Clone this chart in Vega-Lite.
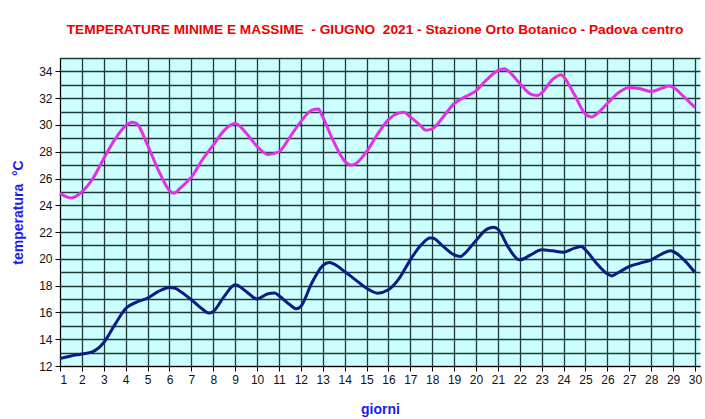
{
  "$schema": "https://vega.github.io/schema/vega-lite/v6.json",
  "width": 640,
  "height": 308,
  "autosize": {"type": "none"},
  "padding": {"left": 60, "top": 58, "right": 5, "bottom": 53},
  "background": "white",
  "config": {
    "view": {"fill": "#CCFFFF", "stroke": null},
    "font": "Liberation Sans"
  },
  "title": {
    "text": "TEMPERATURE MINIME E MASSIME \u00a0- GIUGNO \u00a02021 - Stazione Orto Botanico - Padova centro",
    "color": "#ee0000",
    "fontSize": 13.7,
    "fontWeight": "bold",
    "font": "Liberation Sans",
    "anchor": "middle",
    "offset": 21,
    "dx": -5
  },
  "datasets": {
    "massime": [
      {"giorno": 1, "temp": 24.9}, {"giorno": 1.5, "temp": 24.55}, {"giorno": 2, "temp": 25.0},
      {"giorno": 2.5, "temp": 26.0}, {"giorno": 3, "temp": 27.5}, {"giorno": 3.5, "temp": 28.9},
      {"giorno": 4, "temp": 29.95}, {"giorno": 4.3, "temp": 30.2}, {"giorno": 4.5, "temp": 30.1},
      {"giorno": 5, "temp": 28.5}, {"giorno": 5.5, "temp": 26.6}, {"giorno": 6, "temp": 25.1},
      {"giorno": 6.2, "temp": 24.9}, {"giorno": 6.5, "temp": 25.3}, {"giorno": 7, "temp": 26.1},
      {"giorno": 7.5, "temp": 27.4}, {"giorno": 8, "temp": 28.5}, {"giorno": 8.5, "temp": 29.6},
      {"giorno": 9, "temp": 30.1}, {"giorno": 9.5, "temp": 29.4}, {"giorno": 10, "temp": 28.4},
      {"giorno": 10.5, "temp": 27.8}, {"giorno": 11, "temp": 28.0}, {"giorno": 11.5, "temp": 29.1},
      {"giorno": 12, "temp": 30.25}, {"giorno": 12.5, "temp": 31.1}, {"giorno": 12.8, "temp": 31.2},
      {"giorno": 13, "temp": 30.6}, {"giorno": 13.5, "temp": 28.75}, {"giorno": 14, "temp": 27.3},
      {"giorno": 14.3, "temp": 27.0}, {"giorno": 14.5, "temp": 27.1}, {"giorno": 15, "temp": 28.0},
      {"giorno": 15.5, "temp": 29.3}, {"giorno": 16, "temp": 30.4}, {"giorno": 16.5, "temp": 30.9},
      {"giorno": 16.7, "temp": 30.95}, {"giorno": 17, "temp": 30.6}, {"giorno": 17.5, "temp": 29.9},
      {"giorno": 17.7, "temp": 29.6}, {"giorno": 18, "temp": 29.7}, {"giorno": 18.5, "temp": 30.6},
      {"giorno": 19, "temp": 31.6}, {"giorno": 19.5, "temp": 32.1}, {"giorno": 20, "temp": 32.55},
      {"giorno": 20.5, "temp": 33.4}, {"giorno": 21, "temp": 34.05}, {"giorno": 21.3, "temp": 34.2},
      {"giorno": 21.5, "temp": 34.0}, {"giorno": 22, "temp": 33.1}, {"giorno": 22.5, "temp": 32.3},
      {"giorno": 22.8, "temp": 32.2}, {"giorno": 23, "temp": 32.4}, {"giorno": 23.5, "temp": 33.4},
      {"giorno": 23.9, "temp": 33.75}, {"giorno": 24, "temp": 33.6}, {"giorno": 24.5, "temp": 32.25},
      {"giorno": 25, "temp": 30.8}, {"giorno": 25.3, "temp": 30.6}, {"giorno": 25.5, "temp": 30.8},
      {"giorno": 26, "temp": 31.6}, {"giorno": 26.5, "temp": 32.4}, {"giorno": 27, "temp": 32.8},
      {"giorno": 27.5, "temp": 32.7}, {"giorno": 28, "temp": 32.5}, {"giorno": 28.5, "temp": 32.75},
      {"giorno": 28.8, "temp": 32.9}, {"giorno": 29, "temp": 32.8}, {"giorno": 29.5, "temp": 32.1},
      {"giorno": 30, "temp": 31.3}
    ],
    "minime": [
      {"giorno": 1, "temp": 12.57}, {"giorno": 1.5, "temp": 12.75}, {"giorno": 2, "temp": 12.9},
      {"giorno": 2.5, "temp": 13.07}, {"giorno": 3, "temp": 13.75}, {"giorno": 3.5, "temp": 15.07},
      {"giorno": 4, "temp": 16.3}, {"giorno": 4.5, "temp": 16.77}, {"giorno": 5, "temp": 17.07},
      {"giorno": 5.5, "temp": 17.57}, {"giorno": 6, "temp": 17.87}, {"giorno": 6.3, "temp": 17.77},
      {"giorno": 6.5, "temp": 17.57}, {"giorno": 7, "temp": 16.95}, {"giorno": 7.5, "temp": 16.25},
      {"giorno": 7.8, "temp": 15.95}, {"giorno": 8, "temp": 16.07}, {"giorno": 8.5, "temp": 17.2},
      {"giorno": 9, "temp": 18.06}, {"giorno": 9.5, "temp": 17.57}, {"giorno": 10, "temp": 17.0},
      {"giorno": 10.5, "temp": 17.4}, {"giorno": 10.8, "temp": 17.45}, {"giorno": 11, "temp": 17.25},
      {"giorno": 11.5, "temp": 16.57}, {"giorno": 11.8, "temp": 16.27}, {"giorno": 12, "temp": 16.45},
      {"giorno": 12.5, "temp": 18.2}, {"giorno": 13, "temp": 19.5}, {"giorno": 13.3, "temp": 19.73},
      {"giorno": 13.5, "temp": 19.63}, {"giorno": 14, "temp": 19.06}, {"giorno": 14.5, "temp": 18.43},
      {"giorno": 15, "temp": 17.81}, {"giorno": 15.5, "temp": 17.44}, {"giorno": 16, "temp": 17.69},
      {"giorno": 16.5, "temp": 18.56}, {"giorno": 17, "temp": 19.93}, {"giorno": 17.5, "temp": 21.05},
      {"giorno": 17.9, "temp": 21.55}, {"giorno": 18, "temp": 21.55}, {"giorno": 18.5, "temp": 20.93},
      {"giorno": 19, "temp": 20.3}, {"giorno": 19.3, "temp": 20.18}, {"giorno": 19.5, "temp": 20.43},
      {"giorno": 20, "temp": 21.38}, {"giorno": 20.5, "temp": 22.22}, {"giorno": 20.8, "temp": 22.37},
      {"giorno": 21, "temp": 22.22}, {"giorno": 21.5, "temp": 20.8}, {"giorno": 21.9, "temp": 19.98},
      {"giorno": 22, "temp": 19.93}, {"giorno": 22.5, "temp": 20.3}, {"giorno": 23, "temp": 20.68},
      {"giorno": 23.5, "temp": 20.6}, {"giorno": 24, "temp": 20.5}, {"giorno": 24.5, "temp": 20.8},
      {"giorno": 24.8, "temp": 20.93}, {"giorno": 25, "temp": 20.68}, {"giorno": 25.5, "temp": 19.68},
      {"giorno": 26, "temp": 18.88}, {"giorno": 26.2, "temp": 18.73}, {"giorno": 26.5, "temp": 18.98},
      {"giorno": 27, "temp": 19.43}, {"giorno": 27.5, "temp": 19.68}, {"giorno": 28, "temp": 19.93},
      {"giorno": 28.5, "temp": 20.38}, {"giorno": 28.9, "temp": 20.6}, {"giorno": 29, "temp": 20.55},
      {"giorno": 29.5, "temp": 19.93}, {"giorno": 30, "temp": 18.98}
    ]
  },
  "encoding": {
    "x": {
      "field": "giorno",
      "type": "quantitative",
      "scale": {"domain": [1, 30.23], "nice": false, "zero": false},
      "axis": {
        "title": "giorni",
        "titleColor": "#1a1aee",
        "titleFontSize": 14,
        "titleFontWeight": "bold",
        "titleFont": "Liberation Sans",
        "titlePadding": 17,
        "values": [1,2,3,4,5,6,7,8,9,10,11,12,13,14,15,16,17,18,19,20,21,22,23,24,25,26,27,28,29,30],
        "format": "d",
        "labelFont": "Liberation Sans",
        "labelFontSize": 12,
        "labelColor": "#111111",
        "labelPadding": 3,
        "tickSize": 5,
        "tickColor": "black",
        "domainColor": "black",
        "grid": true,
        "gridColor": "#203a3a",
        "gridWidth": 1.3,
        "gridOpacity": 1
      }
    },
    "y": {
      "field": "temp",
      "type": "quantitative",
      "scale": {"domain": [12, 35], "nice": false, "zero": false},
      "axis": {
        "title": "temperatura \u00a0°C",
        "titleColor": "#1a1aee",
        "titleFontSize": 14,
        "titleFontWeight": "bold",
        "titleFont": "Liberation Sans",
        "titlePadding": 13,
        "values": [12,13,14,15,16,17,18,19,20,21,22,23,24,25,26,27,28,29,30,31,32,33,34,35],
        "labelExpr": "datum.value % 2 == 0 && datum.value < 35 ? datum.label : ''",
        "labelFont": "Liberation Sans",
        "labelFontSize": 12,
        "labelColor": "#111111",
        "labelPadding": 3,
        "tickSize": {"condition": {"test": "datum.value % 2 == 0 && datum.value < 35", "value": 5}, "value": 0},
        "tickColor": "black",
        "domainColor": "black",
        "grid": true,
        "gridColor": "#203a3a",
        "gridWidth": 1.3,
        "gridOpacity": 1
      }
    }
  },
  "layer": [
    {
      "data": {"name": "massime"},
      "mark": {"type": "line", "color": "#e030e8", "strokeWidth": 3, "interpolate": "monotone"}
    },
    {
      "data": {"name": "minime"},
      "mark": {"type": "line", "color": "#0b1d82", "strokeWidth": 3, "interpolate": "monotone"}
    }
  ]
}
